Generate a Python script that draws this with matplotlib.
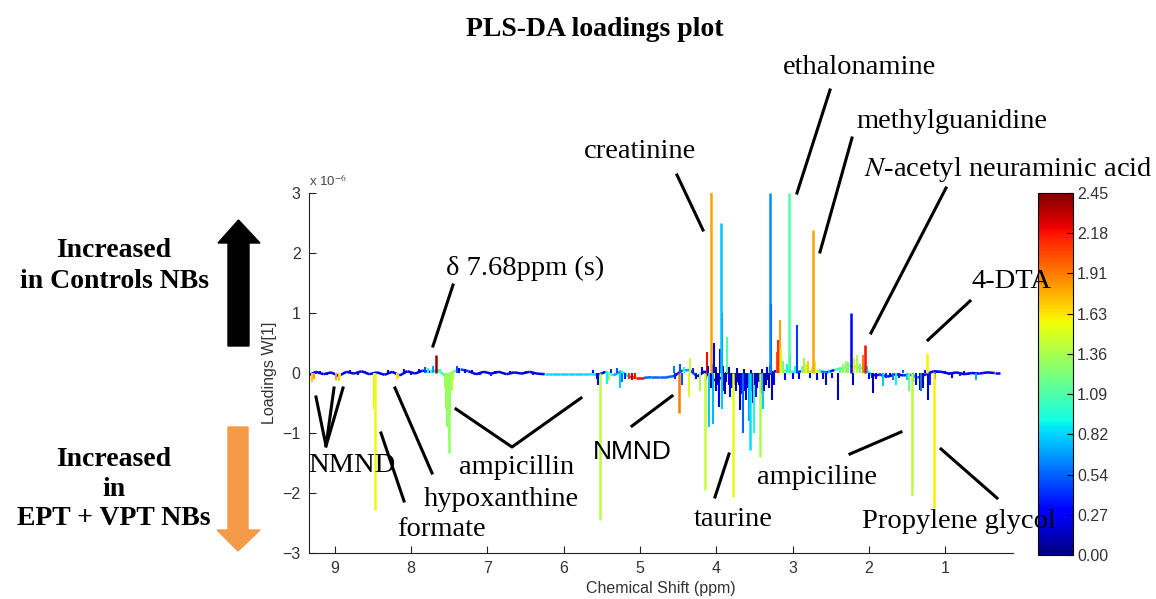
import numpy as np
import matplotlib
matplotlib.use('Agg')
import matplotlib.pyplot as plt
from matplotlib import colors, cm
from matplotlib.collections import LineCollection
from matplotlib.lines import Line2D
from matplotlib.patches import Polygon

plt.rcParams['mathtext.fontset'] = 'stix'
plt.rcParams['font.family'] = ['Liberation Sans', 'DejaVu Sans']

# strong / labelled loadings: shift (ppm), loading W[1] (x1e-6), VIP colour value
major_ppm = [8.48, 7.68, 7.51, 5.53, 4.49, 4.15, 4.063, 3.94, 3.78, 3.56, 3.43,
             3.29, 3.045, 2.73, 2.24, 2.05, 1.44, 1.24, 1.15]
major_load = [-2.28, 0.30, -1.33, -2.45, -0.67, -1.95, 3.02, 2.50, -2.07, -1.28, -1.40,
              3.00, 3.00, 2.38, 1.00, 0.47, -2.03, 0.33, -2.25]
major_vip = [1.55, 2.40, 1.30, 1.40, 1.90, 1.45, 1.80, 0.78, 1.55, 0.85, 1.35,
             0.65, 1.10, 1.80, 0.30, 2.20, 1.40, 1.60, 1.60]

# minor loadings per region: (ppm, loading, vip)
peaks_aromatic = [
    (9.30, -0.15, 1.7), (9.28, -0.10, 1.8), (9.20, 0.04, 0.2), (9.10, -0.03, 0.15),
    (8.98, -0.12, 1.8), (8.95, -0.13, 1.7), (8.93, -0.08, 1.6), (8.80, 0.05, 0.2),
    (8.70, -0.04, 0.15), (8.60, 0.04, 0.3), (8.49, -0.60, 1.6), (8.47, -0.40, 1.5),
    (8.30, 0.05, 0.2), (8.19, -0.12, 1.6), (8.17, -0.08, 1.7), (8.10, 0.06, 0.3),
    (8.00, -0.04, 0.2), (7.90, 0.07, 0.3), (7.82, 0.10, 0.5), (7.78, 0.08, 1.0),
    (7.72, 0.12, 0.7), (7.62, 0.06, 1.1), (7.56, -0.25, 1.3), (7.54, -0.60, 1.35),
    (7.53, -0.90, 1.3), (7.50, -1.10, 1.3), (7.49, -0.70, 1.35), (7.47, -0.30, 1.4),
    (7.45, -0.12, 1.4), (7.40, 0.12, 0.5), (7.37, 0.08, 0.3), (7.30, 0.06, 0.2),
    (7.20, 0.05, 0.25), (7.10, -0.04, 0.2), (7.04, 0.04, 0.3), (6.95, -0.05, 0.4),
    (6.90, 0.03, 0.2), (6.70, 0.03, 0.3), (6.50, 0.03, 0.3), (6.40, -0.03, 0.3),
]
peaks_anomeric = [
    (5.62, 0.05, 0.3), (5.57, -0.10, 0.2), (5.55, -0.20, 0.3), (5.43, -0.18, 0.9),
    (5.41, -0.12, 1.3), (5.38, 0.06, 0.4), (5.30, 0.08, 0.5), (5.26, -0.25, 0.8),
    (5.24, -0.15, 0.6), (5.20, -0.10, 0.4), (5.14, -0.10, 2.1), (5.10, -0.12, 2.3),
    (5.07, -0.10, 2.2), (4.56, 0.12, 0.6), (4.54, -0.10, 0.4), (4.47, 0.15, 0.5),
    (4.45, -0.20, 0.5), (4.42, 0.10, 1.0), (4.36, -0.40, 1.5), (4.34, 0.25, 1.45),
    (4.30, 0.08, 0.4), (4.27, -0.10, 0.3), (4.22, -0.30, 1.35), (4.19, 0.10, 0.3),
]
peaks_sugar = [
    (4.12, 0.35, 2.2), (4.10, -0.20, 0.2), (4.09, -0.90, 0.8), (4.07, -0.25, 0.1),
    (4.04, -0.85, 0.75), (4.03, 0.50, 0.2), (4.01, -0.30, 0.15), (3.99, -0.20, 0.1),
    (3.97, -0.55, 0.6), (3.96, -0.57, 0.3), (3.95, 0.40, 0.3), (3.93, 1.00, 0.5),
    (3.92, -0.60, 0.8), (3.90, -0.30, 0.15), (3.88, -0.35, 0.1), (3.86, 0.60, 1.1),
    (3.84, -0.20, 0.15), (3.82, -0.40, 0.3), (3.80, -0.25, 0.1), (3.76, -0.20, 0.15),
    (3.74, -0.30, 0.2), (3.72, -0.15, 0.1), (3.69, -0.62, 0.1), (3.67, -0.35, 0.3),
    (3.65, -1.00, 0.55), (3.63, -0.30, 0.2), (3.61, -0.45, 0.25), (3.59, -0.25, 0.15),
    (3.57, -0.80, 0.7), (3.54, -0.30, 0.2), (3.52, -0.50, 0.3), (3.50, -1.00, 0.95),
    (3.48, -0.40, 0.35), (3.46, -0.25, 0.2), (3.41, -0.35, 0.3), (3.39, -0.60, 0.8),
    (3.37, -0.30, 0.2), (3.35, -0.20, 0.15), (3.33, 0.10, 0.2), (3.31, -0.25, 0.1),
    (3.28, 1.15, 0.2), (3.27, -0.45, 0.1), (3.25, -0.20, 0.3),
    (4.13, -0.12, 0.1), (4.11, 0.12, 0.1), (4.06, 0.15, 0.1), (4.00, 0.10, 0.1),
    (3.98, -0.15, 0.1), (3.91, 0.12, 0.1), (3.87, -0.15, 0.1), (3.83, 0.10, 0.1),
    (3.78, -0.18, 0.1), (3.73, 0.08, 0.1), (3.70, -0.20, 0.1), (3.64, 0.06, 0.1),
    (3.60, -0.18, 0.1), (3.55, 0.05, 0.1), (3.49, -0.20, 0.1), (3.44, -0.15, 0.1),
    (3.40, 0.06, 0.1), (3.36, -0.18, 0.1), (3.32, -0.12, 0.1), (3.30, 0.12, 0.1),
]
peaks_aliphatic = [
    (3.21, 0.35, 2.0), (3.19, 0.55, 2.1), (3.17, 0.88, 1.8), (3.15, 0.40, 1.5),
    (3.13, 0.20, 1.2), (3.10, -0.12, 0.3), (3.07, 0.15, 0.9), (3.03, 0.30, 0.8),
    (3.00, -0.10, 0.2), (2.97, 0.12, 0.9), (2.94, 0.80, 0.45), (2.92, -0.10, 0.2),
    (2.88, 0.12, 1.2), (2.85, 0.25, 1.3), (2.82, 0.15, 1.6), (2.80, 0.20, 1.7),
    (2.77, -0.08, 0.3), (2.75, 0.10, 1.4), (2.70, 0.20, 1.5), (2.68, -0.12, 0.2),
    (2.64, 0.06, 1.1), (2.60, -0.10, 0.3), (2.56, -0.20, 0.2), (2.52, 0.05, 0.8),
    (2.48, -0.08, 0.3), (2.41, -0.45, 0.15), (2.38, 0.10, 1.1), (2.34, 0.15, 1.3),
    (2.30, 0.20, 1.3), (2.27, 0.18, 1.2), (2.21, -0.20, 0.2), (2.19, 0.25, 1.5),
    (2.16, 0.30, 1.4), (2.12, 0.15, 1.2), (2.08, 0.30, 1.9), (2.03, 0.12, 0.8),
    (2.00, -0.10, 0.3), (1.96, -0.08, 0.4), (1.94, -0.33, 0.1), (1.90, -0.10, 0.3),
    (1.85, -0.05, 0.5), (1.82, -0.22, 0.8), (1.78, -0.08, 0.4), (1.72, -0.06, 0.3),
    (1.68, -0.12, 0.6), (1.64, -0.20, 0.9), (1.60, -0.08, 0.4), (1.55, 0.05, 0.5),
    (1.50, -0.12, 0.8), (1.47, -0.30, 1.2), (1.42, -0.15, 0.6), (1.38, -0.20, 0.3),
    (1.33, -0.28, 0.1), (1.31, -0.30, 0.6), (1.29, -0.25, 0.1), (1.27, 0.05, 0.3),
    (1.22, -0.45, 0.2), (1.20, -0.20, 0.4), (1.13, -0.10, 0.3), (1.10, 0.04, 0.3),
    (1.05, 0.03, 0.35), (1.00, 0.04, 0.3), (0.95, -0.04, 0.3), (0.91, -0.08, 0.2),
    (0.85, 0.02, 0.3), (0.80, -0.05, 0.4), (0.75, 0.03, 0.3), (0.70, -0.03, 0.3),
    (0.59, -0.12, 0.7), (0.50, -0.02, 0.4), (0.40, -0.02, 0.3),
]

# baseline trace
base_ppm = [9.33, 9.25, 9.15, 9.05, 8.95, 8.85, 8.75, 8.65, 8.55, 8.45, 8.35, 8.25,
            8.15, 8.05, 7.95, 7.85, 7.75, 7.65, 7.55, 7.45, 7.35, 7.25, 7.15, 7.05,
            6.95, 6.85, 6.75, 6.65, 6.55, 6.45, 6.35, 6.25, 6.15, 6.05, 5.95, 5.85,
            5.75, 5.65, 5.55, 5.45, 5.35, 5.25, 5.15, 5.05, 4.95, 4.85, 4.75, 4.65,
            4.55, 4.45, 4.35, 4.25, 4.15, 4.05, 3.95, 3.85, 3.75, 3.65, 3.55, 3.45,
            3.35, 3.25, 3.15, 3.05, 2.95, 2.85, 2.75, 2.65, 2.55, 2.45, 2.35, 2.25,
            2.15, 2.05, 1.95, 1.85, 1.75, 1.65, 1.55, 1.45, 1.35, 1.25, 1.15, 1.05,
            0.95, 0.85, 0.75, 0.65, 0.55, 0.45, 0.35, 0.28]
base_load = [-0.03, 0.02, -0.02, 0.01, -0.05, 0.02, -0.01, 0.03, -0.02, 0.01, -0.03, 0.02,
             -0.04, 0.03, -0.01, 0.04, 0.02, 0.05, -0.05, 0.02, 0.06, 0.03, -0.02, 0.02,
             -0.01, 0.02, -0.02, 0.01, -0.01, 0.02, -0.01, -0.02, -0.02, -0.02, -0.02, -0.02,
             -0.02, -0.02, -0.03, 0.02, -0.04, 0.03, -0.06, -0.08, -0.08, -0.07, -0.07, -0.07,
             -0.05, 0.04, 0.05, -0.06, 0.03, -0.12, -0.10, 0.02, -0.15, -0.08, -0.18, -0.10,
             -0.05, 0.02, 0.05, 0.03, 0.01, 0.04, 0.02, 0.03, 0.01, 0.05, 0.08, 0.12,
             0.10, 0.06, -0.04, -0.03, -0.06, -0.02, -0.04, -0.03, -0.08, -0.02, 0.03, 0.02,
             -0.01, 0.01, -0.02, 0.00, -0.01, 0.01, 0.00, 0.00]
base_vip = [0.25, 0.20, 0.25, 0.15, 0.25, 0.20, 0.25, 0.18, 0.25, 0.20, 0.25, 0.20,
            0.25, 0.18, 0.25, 0.35, 0.90, 1.00, 1.30, 1.10, 0.45, 0.22, 0.18, 0.22,
            0.22, 0.18, 0.22, 0.22, 0.18, 0.22, 0.30, 0.85, 0.85, 0.85, 0.85, 0.85,
            0.85, 0.85, 0.25, 1.00, 0.70, 0.90, 2.10, 2.20, 0.55, 0.55, 0.55, 0.55,
            0.35, 0.70, 0.50, 0.12, 0.12, 0.12, 0.12, 0.12, 0.12, 0.12, 0.12, 0.12,
            0.12, 0.25, 1.30, 1.00, 0.45, 1.20, 1.50, 0.60, 0.35, 1.00, 1.30, 1.40,
            1.20, 0.90, 0.30, 0.40, 0.22, 0.30, 0.40, 0.70, 0.20, 0.15, 0.22, 0.22,
            0.22, 0.20, 0.22, 0.22, 0.25, 0.22, 0.25, 0.25]

ticks_vip = np.linspace(0, 2.45, 10)

W, H = 1156, 599
fig = plt.figure(figsize=(W / 100, H / 100), dpi=100)


def fx(px):
    return px / W


def fy(py):
    return 1 - py / H


cmap = plt.get_cmap('jet')
norm = colors.Normalize(vmin=0, vmax=2.45)

ax = fig.add_axes([fx(309), fy(553), fx(1013) - fx(309), fy(193) - fy(553)])

# baseline coloured segment by segment
pts = np.column_stack([base_ppm, base_load])
segs = np.stack([pts[:-1], pts[1:]], axis=1)
ax.add_collection(LineCollection(segs, colors=cmap(norm(np.array(base_vip[:-1]))), linewidths=1.8))

minor = np.array(peaks_aromatic + peaks_anomeric + peaks_sugar + peaks_aliphatic)
ax.vlines(minor[:, 0], 0, minor[:, 1], colors=cmap(norm(minor[:, 2])), linewidths=1.5)
ax.vlines(major_ppm, 0, major_load, colors=cmap(norm(np.array(major_vip))), linewidths=1.8)

ax.set_xlim(9.34, 0.11)
ax.set_ylim(-3, 3)
ax.set_xticks(range(1, 10))
ax.set_yticks(range(-3, 4))
ax.tick_params(direction='in', length=5, labelsize=11.5, labelcolor='#333333',
               color='#222222', pad=6)
for s in ['top', 'right']:
    ax.spines[s].set_visible(False)
for s in ['left', 'bottom']:
    ax.spines[s].set_color('#222222')
ax.set_xlabel('Chemical Shift (ppm)', fontsize=11.5, color='#333333', labelpad=3)
ax.set_ylabel('Loadings W[1]', fontsize=11.5, color='#333333')
ax.yaxis.set_label_coords(-0.045, 0.5)
ax.text(0.0, 1.02, r'x 10$^{-6}$', transform=ax.transAxes, fontsize=9.5, color='#444444')

# colour bar for VIP
cax = fig.add_axes([fx(1038), fy(555), fx(1073) - fx(1038), fy(193) - fy(555)])
cb = fig.colorbar(cm.ScalarMappable(norm=norm, cmap=cmap), cax=cax, ticks=ticks_vip)
cb.ax.set_yticklabels([f'{t:.2f}' for t in ticks_vip])
cb.ax.tick_params(direction='in', length=4, labelsize=11.5, labelcolor='#333333', pad=3)
cb.outline.set_linewidth(0.8)

# group arrows
up_arrow = [(228, 346), (249, 346), (249, 243), (260, 243), (238.5, 220), (218, 243), (228, 243)]
down_arrow = [(228, 427), (248, 427), (248, 530), (260, 530), (238, 551), (217, 530), (228, 530)]
fig.add_artist(Polygon([(fx(x), fy(y)) for x, y in up_arrow], closed=True,
                       transform=fig.transFigure, color='black'))
fig.add_artist(Polygon([(fx(x), fy(y)) for x, y in down_arrow], closed=True,
                       transform=fig.transFigure, color='#f59a48'))

serif = 'Liberation Serif'
fig.text(fx(595), fy(30), 'PLS-DA loadings plot', ha='center', va='center',
         fontsize=20, weight='bold', family=serif)
fig.text(fx(114), fy(266), 'Increased\nin Controls NBs', ha='center', va='center',
         fontsize=20, weight='bold', family=serif, linespacing=1.3)
fig.text(fx(114), fy(489), 'Increased\nin\nEPT + VPT NBs', ha='center', va='center',
         fontsize=20, weight='bold', family=serif, linespacing=1.22)

labels = [
    ('ethalonamine', 860, 68, serif),
    ('methylguanidine', 952, 122, serif),
    ('creatinine', 640, 152, serif),
    (r'$N$-acetyl neuraminic acid', 1008, 170, serif),
    ('4-DTA', 1012, 282, serif),
    ('\u03b4 7.68ppm (s)', 525, 268, serif),
    ('NMND', 632, 452, 'Liberation Sans'),
    ('ampicillin', 517, 468, serif),
    ('NMND', 352, 466, serif),
    ('hypoxanthine', 501, 500, serif),
    ('formate', 441, 530, serif),
    ('taurine', 733, 520, serif),
    ('ampiciline', 817, 477, serif),
    ('Propylene glycol', 959, 522, serif),
]
for txt, x, y, fam in labels:
    fig.text(fx(x), fy(y), txt, ha='center', va='center',
             fontsize=19 if fam == 'Liberation Sans' else 20.5, family=fam)

# leader lines from labels to peaks
leaders = [
    [(677, 175), (703, 230)],
    [(830, 90), (797, 193)],
    [(852, 138), (820, 252)],
    [(946, 188), (871, 333)],
    [(970, 301), (928, 340)],
    [(941, 449), (997, 498)],
    [(850, 454), (901, 432)],
    [(715, 497), (729, 454)],
    [(632, 426), (672, 396)],
    [(456, 409), (512, 447), (581, 398)],
    [(395, 388), (432, 473)],
    [(381, 433), (404, 501)],
    [(316, 397), (326, 446), (334, 388)],
    [(326, 446), (343, 388)],
    [(453, 285), (433, 346)],
]
for pl in leaders:
    fig.add_artist(Line2D([fx(p[0]) for p in pl], [fy(p[1]) for p in pl],
                          transform=fig.transFigure, color='black', lw=2.2))

fig.savefig('out.png', dpi=100, facecolor='white')
